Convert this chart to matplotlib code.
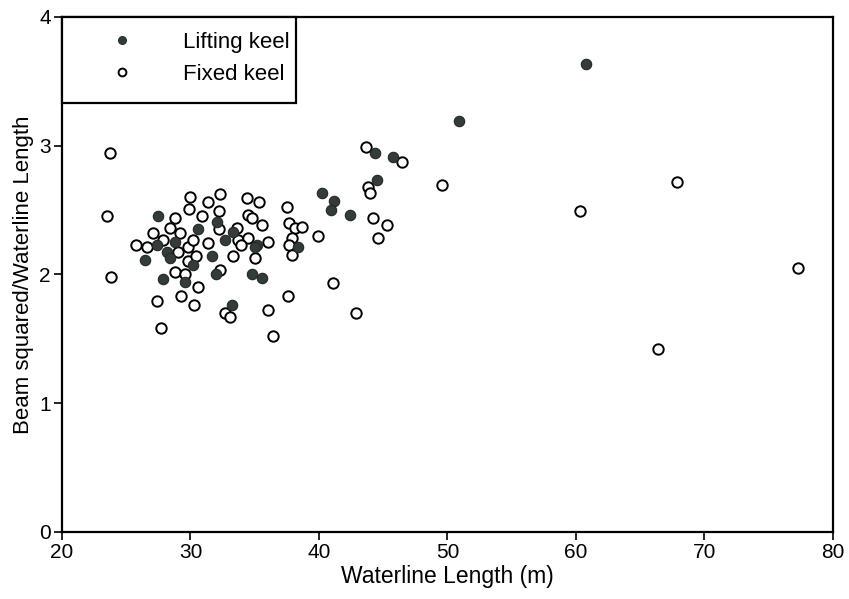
import matplotlib
matplotlib.use("Agg")
import matplotlib.pyplot as plt
from matplotlib.patches import Rectangle

plt.rcParams['font.family'] = ['Liberation Sans', 'DejaVu Sans']

# Lifting keel boats: waterline length (m), beam^2 / waterline length
lift_x = [27.5, 30.6, 28.8, 27.4, 28.2, 28.4, 26.5, 30.2, 27.9, 29.6,
          32.1, 33.3, 32.7, 35.2, 35.0, 38.4, 31.7, 32.0, 34.8, 35.6,
          33.2, 44.4, 45.8, 44.5, 40.2, 41.2, 40.9, 42.4, 50.9, 60.8]
lift_y = [2.45, 2.35, 2.25, 2.23, 2.17, 2.13, 2.11, 2.07, 1.96, 1.94,
          2.41, 2.33, 2.27, 2.23, 2.21, 2.21, 2.14, 2.00, 2.00, 1.97,
          1.76, 2.94, 2.91, 2.73, 2.63, 2.57, 2.50, 2.46, 3.19, 3.63]

# Fixed keel boats
fixed_x = [23.5, 23.8, 23.7, 29.96, 29.9, 28.8, 28.4, 27.1, 27.9, 29.2,
           25.8, 26.6, 29.0, 29.8, 30.2, 29.8, 30.4, 28.8, 29.6, 30.6,
           27.4, 29.3, 30.3, 27.7,
           32.3, 31.4, 34.4, 35.3, 37.5, 32.2, 30.9, 34.5, 34.8, 35.6,
           37.7, 33.6, 32.2, 38.1, 38.7, 33.7, 34.5, 31.4, 33.9, 36.0,
           37.9, 37.7, 37.9, 33.3, 35.0, 32.3, 37.6, 32.7, 33.1, 36.0,
           36.4,
           43.7, 46.5, 43.8, 44.0, 44.2, 45.3, 44.6, 39.9, 41.1, 42.9,
           49.6, 60.3, 67.9, 77.3, 66.4]
fixed_y = [2.45, 1.98, 2.94, 2.60, 2.51, 2.44, 2.36, 2.32, 2.27, 2.32,
           2.23, 2.21, 2.17, 2.21, 2.27, 2.10, 2.14, 2.02, 2.00, 1.90,
           1.79, 1.83, 1.76, 1.58,
           2.62, 2.56, 2.59, 2.56, 2.52, 2.49, 2.45, 2.46, 2.44, 2.38,
           2.40, 2.36, 2.35, 2.36, 2.37, 2.27, 2.28, 2.24, 2.23, 2.25,
           2.28, 2.23, 2.15, 2.14, 2.13, 2.03, 1.83, 1.70, 1.67, 1.72,
           1.52,
           2.99, 2.87, 2.68, 2.63, 2.44, 2.38, 2.28, 2.30, 1.93, 1.70,
           2.69, 2.49, 2.72, 2.05, 1.42]

fig = plt.figure(figsize=(8.49, 5.99), dpi=100)
ax = fig.add_axes([0.073, 0.112, 0.908, 0.86])

ax.plot(fixed_x, fixed_y, 'o', ms=7.5, mfc='white', mec='black', mew=1.4,
        label='Fixed keel', zorder=2)
ax.plot(lift_x, lift_y, 'o', ms=7.5, mfc='#333b3b', mec='#222828', mew=0.8,
        label='Lifting keel', zorder=3)

ax.set_xlim(20, 80)
ax.set_ylim(0, 4)
ax.set_xticks([20, 30, 40, 50, 60, 70, 80])
ax.set_yticks([0, 1, 2, 3, 4])
ax.tick_params(direction='out', length=6, width=1.2, labelsize=15, pad=2)
for s in ax.spines.values():
    s.set_linewidth(1.6)

ax.set_xlabel('Waterline Length (m)', fontsize=16.5, labelpad=2)
ax.set_ylabel('Beam squared/Waterline Length', fontsize=16, labelpad=4)

# legend box drawn by hand, legend itself frameless
ax.add_patch(Rectangle((0, 1), 0.3035, -0.167, transform=ax.transAxes,
                       fill=True, facecolor='white', edgecolor='black',
                       lw=1.6, zorder=4, clip_on=False))
h, l = ax.get_legend_handles_labels()
leg = ax.legend([h[1], h[0]], [l[1], l[0]], loc='upper left',
                bbox_to_anchor=(0, 1), borderaxespad=0, fontsize=16,
                frameon=False, markerscale=0.75, handlelength=4.05,
                handletextpad=0.72, labelspacing=0.5, borderpad=0.69)
leg.set_zorder(5)

fig.savefig('out.png', dpi=100)
